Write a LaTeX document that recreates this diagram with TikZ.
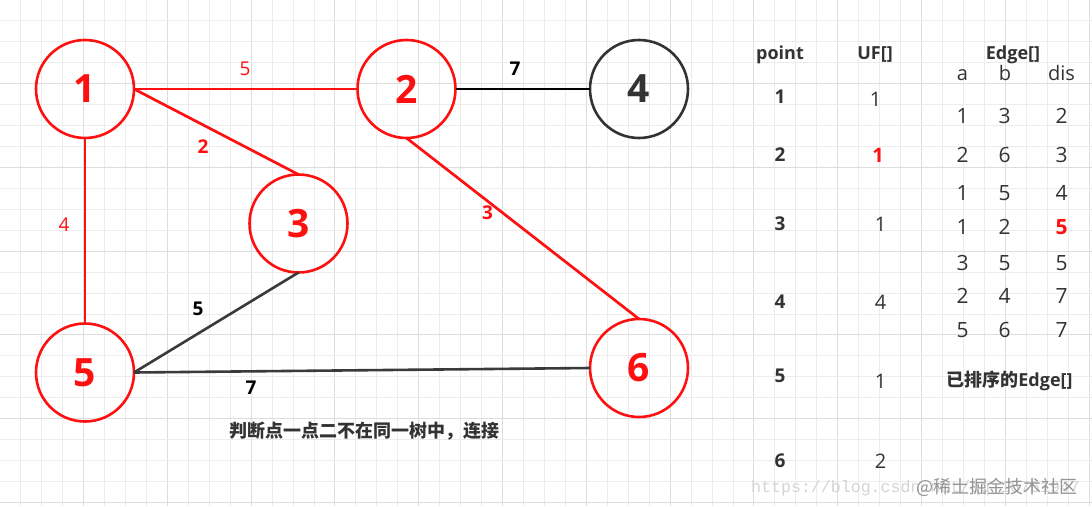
\documentclass[tikz,border=0pt]{standalone}
\usepackage{fontspec}
\setmainfont{Open Sans}
\newfontfamily\cjk{Noto Sans CJK SC}
\newfontfamily\wmono{Liberation Mono}
\definecolor{gridminor}{HTML}{ECECEC}
\definecolor{gridmajor}{HTML}{DDDDDD}
\definecolor{dk}{HTML}{333333}
\definecolor{edgegray}{HTML}{3A3A3A}
\definecolor{rd}{HTML}{FF1010}
\newcommand{\fs}[1]{\fontsize{#1}{#1}\selectfont}
\begin{document}
\begin{tikzpicture}[x=1pt,y=-1pt,
  vtx/.style={circle, draw=rd, line width=2.6pt, minimum size=98pt, inner sep=0pt, outer sep=0pt,
    text=rd, font=\fs{39}\bfseries},
  vtxk/.style={vtx, draw=dk, text=dk},
  redline/.style={draw=rd, line width=2.7pt},
  blkline/.style={draw=black, line width=2.9pt},
  grayline/.style={draw=edgegray, line width=2.6pt},
  wlab/.style={font=\fs{19}, inner sep=0pt},
  wlabb/.style={font=\fs{19}\bfseries, inner sep=0pt},
  hdr/.style={font=\fs{18}\bfseries, text=dk, anchor=base, inner sep=0pt},
  sub/.style={font=\fs{20}, text=dk, anchor=base, inner sep=0pt},
  ptcol/.style={font=\fs{19}\bfseries, text=dk, inner sep=0pt},
  ufcol/.style={font=\fs{20}, text=dk, inner sep=0pt},
  edcol/.style={font=\fs{21}, text=dk, inner sep=0pt},
  note/.style={font=\fs{18}\bfseries, text=dk, anchor=base, inner sep=0pt},
]
\useasboundingbox (0,0) rectangle (1092,506);
\fill[white] (0,0) rectangle (1092,506);
% grid
\foreach \k in {-1,...,52} {
  \pgfmathsetmacro{\p}{20.7+20.95*\k}
  \pgfmathtruncatemacro{\m}{mod(\k+4,4)}
  \ifnum\m=3
    \draw[gridmajor, line width=1pt] (\p,0) -- (\p,506);
  \else
    \draw[gridminor, line width=1pt] (\p,0) -- (\p,506);
  \fi
}
\foreach \k in {-1,...,24} {
  \pgfmathsetmacro{\p}{20.7+20.95*\k}
  \pgfmathtruncatemacro{\m}{mod(\k+4,4)}
  \ifnum\m=3
    \draw[gridmajor, line width=1pt] (0,\p) -- (1092,\p);
  \else
    \draw[gridminor, line width=1pt] (0,\p) -- (1092,\p);
  \fi
}
% vertices
\node[vtx] (n1) at (85,89) {1};
\node[vtx] (n2) at (406.5,89) {2};
\node[vtxk] (n4) at (639,89) {4};
\node[vtx] (n3) at (298.5,223.5) {3};
\node[vtx] (n5) at (85,372.5) {5};
\node[vtx] (n6) at (639,368) {6};
% edges
\draw[redline] (n1.east) -- (n2.west);
\draw[redline] (n1.east) -- (n3.north);
\draw[redline] (n1.south) -- (n5.north);
\draw[blkline] (n2.east) -- (n4.west);
\draw[redline] (n2.south) -- (n6.north);
\draw[grayline] (n3.south) -- (n5.east);
\draw[grayline] (n5.east) -- (n6.west);
% edge labels
\node[wlab, text=rd] (w12) at (245,69) {5};
\node[wlabb, text=rd] (w13) at (203,147) {2};
\node[wlab, text=rd] (w15) at (64,225) {4};
\node[wlabb, text=black] (w24) at (515,69) {7};
\node[wlabb, text=rd] (w26) at (487.5,213) {3};
\node[wlabb, text=black] (w35) at (198,309) {5};
\node[wlabb, text=black] (w56) at (251,388) {7};
% caption
\node[note] (cap) at (364,437.5) {\cjk 判断点一点二不在同一树中，连接};
% table headers
\node[hdr] (hpt) at (780,59.5) {point};
\node[hdr] (huf) at (875,59.5) {UF[]};
\node[hdr] (hed) at (1013,59.5) {Edge[]};
\node[sub] (ha) at (962.5,80) {a};
\node[sub] (hb) at (1005,80) {b};
\node[sub] (hd) at (1061.5,80) {dis};
% point column
\node[ptcol] (p1) at (780,97) {1};
\node[ptcol] (p2) at (780,155) {2};
\node[ptcol] (p3) at (780,224) {3};
\node[ptcol] (p4) at (780,302) {4};
\node[ptcol] (p5) at (780,376) {5};
\node[ptcol] (p6) at (780,461) {6};
% UF column
\node[ufcol] (u1) at (875.5,99) {1};
\node[ufcol, text=rd, font=\fs{20}\bfseries] (u2) at (878,155.5) {1};
\node[ufcol] (u3) at (880.5,224) {1};
\node[ufcol] (u4) at (880.5,302) {4};
\node[ufcol] (u5) at (880.5,381) {1};
\node[ufcol] (u6) at (880.5,461) {2};
% Edge table
\foreach \r/\y/\a/\b/\d in {1/115.7/1/3/2, 2/155/2/6/3, 3/192.7/1/5/4, 5/263/3/5/5, 6/296.3/2/4/7, 7/329.7/5/6/7} {
  \node[edcol] (ea\r) at (962.5,\y) {\a};
  \node[edcol] (eb\r) at (1004.5,\y) {\b};
  \node[edcol] (ed\r) at (1061.5,\y) {\d};
}
\node[edcol] (ea4) at (962.5,226.7) {1};
\node[edcol] (eb4) at (1004.5,226.7) {2};
\node[edcol, text=rd, font=\fs{21}\bfseries] (ed4) at (1061.5,226.7) {5};
\node[note] (sorted) at (1009.5,386.5) {{\cjk 已排序的}Edge[]};
% watermark
\node[anchor=base west, inner sep=0pt, text=black!17, font=\wmono\fs{16.6}] (wm1) at (751,492) {https://blog.csdn.net/qq\_16761947};
\node[anchor=base west, inner sep=0pt, text=black!42, font=\cjk\fs{18}] (wm2) at (916.5,493) {@稀土掘金技术社区};
\end{tikzpicture}
\end{document}
